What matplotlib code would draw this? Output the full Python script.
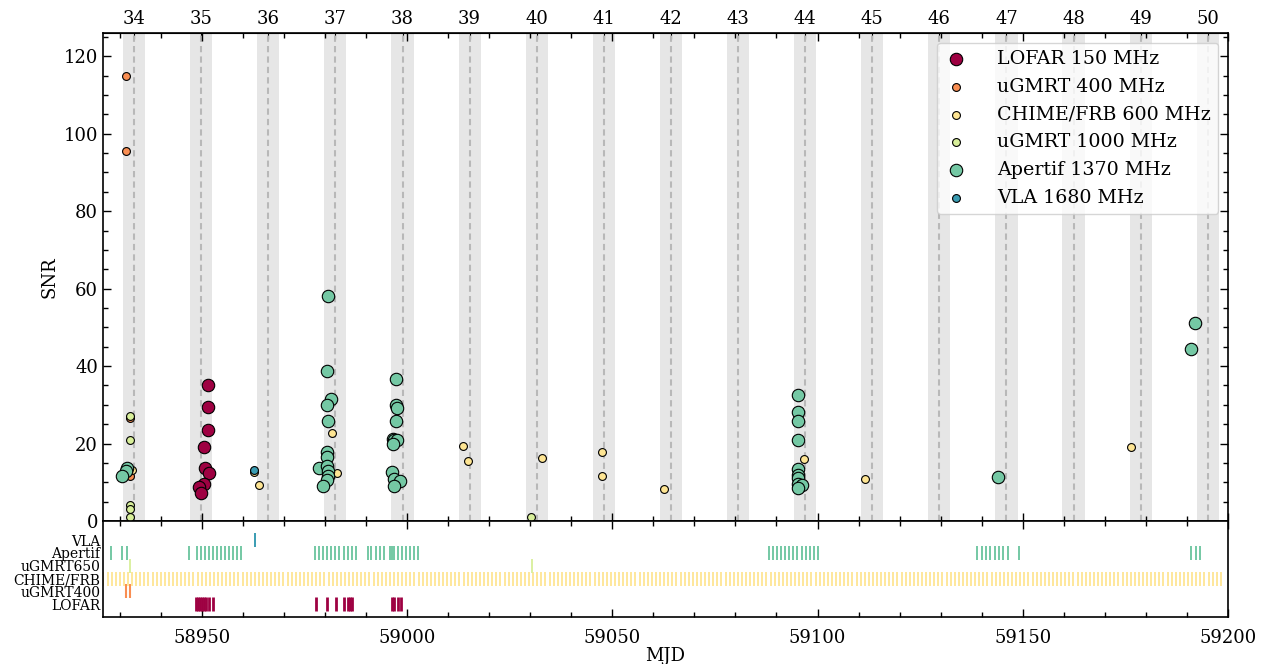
import numpy as np
import matplotlib
matplotlib.use("Agg")
import matplotlib.pyplot as plt

plt.rcParams['font.family'] = 'serif'
plt.rcParams['font.serif'] = ['DejaVu Serif']

# Burst detections: (MJD, SNR) per instrument
lofar_mjd = [58951.5, 58951.5, 58951.6, 58950.6, 58950.7, 58951.7, 58950.6, 58949.3, 58949.7]
lofar_snr = [35.2, 29.4, 23.5, 19.0, 13.8, 12.5, 9.6, 8.9, 7.3]

gmrt400_mjd = [58931.5, 58931.5, 58932.6, 58932.6]
gmrt400_snr = [114.9, 95.6, 26.5, 11.5]

chime_mjd = [58933.0, 58962.8, 58964.0, 58981.8, 58982.9, 59013.7, 59014.8,
             59032.8, 59047.6, 59047.6, 59062.5, 59096.6, 59111.6, 59176.3]
chime_snr = [13.1, 12.6, 9.3, 22.8, 12.3, 19.3, 15.5,
             16.3, 17.8, 11.6, 8.3, 15.9, 10.9, 19.0]

gmrt1000_mjd = [58932.6, 58932.6, 58932.6, 58932.6, 58932.6, 59030.3]
gmrt1000_snr = [27.0, 21.0, 4.0, 3.0, 1.1, 1.1]

apertif_mjd = [58931.7, 58931.6, 58930.5,
               58980.7, 58980.6, 58981.5, 58980.5, 58980.7, 58980.6, 58980.6,
               58978.5, 58980.6, 58980.7, 58980.7, 58980.5, 58979.5,
               58997.3, 58997.3, 58997.5, 58997.2, 58996.5, 58996.7, 58997.5,
               58996.5, 58996.4, 58996.8, 58998.2, 58996.8,
               59095.3, 59095.3, 59095.3, 59095.3, 59095.3, 59095.3, 59095.3,
               59095.2, 59096.3, 59095.2,
               59143.9, 59190.9, 59191.9]
apertif_snr = [13.7, 12.9, 11.6,
               58.2, 38.7, 31.5, 30.0, 25.7, 17.8, 16.5,
               13.8, 14.1, 12.8, 11.7, 10.6, 9.0,
               36.6, 30.0, 29.3, 25.9, 21.1, 21.0, 20.9,
               19.9, 12.6, 10.9, 10.3, 9.1,
               32.5, 28.2, 25.9, 20.8, 13.3, 12.0, 11.0,
               9.5, 9.4, 8.6,
               11.4, 44.3, 51.2]

vla_mjd = [58962.8]
vla_snr = [13.1]

# Observation epochs per instrument (bottom panel)
obs_lofar = [58948.5, 58949.0, 58949.5, 58950.1, 58950.6, 58951.1, 58951.7, 58952.8,
             58977.7, 58980.5, 58982.6, 58984.6, 58985.7, 58986.2, 58986.6,
             58996.4, 58996.8, 58997.7, 58998.6]
obs_gmrt400 = [58931.4, 58932.5]
obs_gmrt650 = [58932.6, 59030.5]
obs_apertif = [58927.8, 58930.6, 58931.7, 58946.8,
               58948.8, 58949.8, 58950.8, 58951.7, 58952.7, 58953.7, 58954.7, 58955.7,
               58956.6, 58957.6, 58958.6, 58959.6,
               58977.5, 58978.5, 58979.5, 58980.5, 58981.5, 58982.5, 58983.5, 58984.5,
               58985.5, 58986.5, 58987.5,
               58990.4, 58991.3, 58992.4, 58993.4, 58994.3, 58995.8, 58996.3, 58996.8,
               58997.7, 58998.7, 58999.7, 59000.7, 59001.6, 59002.6,
               59088.1, 59089.1, 59090.1, 59091.1, 59092.1, 59093.1, 59094.1, 59095.1,
               59096.1, 59097.1, 59098.1, 59099.1, 59100.1,
               59138.9, 59140.0, 59141.0, 59142.1, 59143.2, 59144.2, 59145.3, 59146.4,
               59149.0, 59191.1, 59192.1, 59193.1]
obs_vla = [58963.0]
# CHIME/FRB sees the source once per sidereal day
obs_chime = np.arange(58926.0, 59198.7, 0.99727)

# Activity cycles
period = 16.35
mjd_ref = 58369.40
cycles = np.arange(34, 51)
window = 2.7

c_lofar = '#9e0142'
c_g400 = '#f98e52'
c_chime = '#fee593'
c_g1000 = '#d8ef9a'
c_apertif = '#74c8a4'
c_vla = '#3a9cb2'

fig = plt.figure(figsize=(12.7, 6.64), dpi=100)
ax = fig.add_axes([0.0811, 0.2154, 0.8858, 0.7349])
ax2 = fig.add_axes([0.0811, 0.0708, 0.8858, 0.1446], sharex=ax)

centres = mjd_ref + (cycles + 0.5) * period
for c in centres:
    ax.axvspan(c - window, c + window, color='#e6e6e6', lw=0, zorder=0)
    ax.axvline(c, color='#b8b8b8', ls=(0, (3, 2)), lw=1.5, zorder=0.5)

big, small = 80, 32
ax.scatter(lofar_mjd, lofar_snr, s=big, c=c_lofar, edgecolors='k', lw=0.8, zorder=3, label='LOFAR 150 MHz')
ax.scatter(gmrt400_mjd, gmrt400_snr, s=small, c=c_g400, edgecolors='k', lw=0.8, zorder=3, label='uGMRT 400 MHz')
ax.scatter(chime_mjd, chime_snr, s=small, c=c_chime, edgecolors='k', lw=0.8, zorder=3, label='CHIME/FRB 600 MHz')
ax.scatter(gmrt1000_mjd, gmrt1000_snr, s=small, c=c_g1000, edgecolors='k', lw=0.8, zorder=3, label='uGMRT 1000 MHz')
ax.scatter(apertif_mjd, apertif_snr, s=big, c=c_apertif, edgecolors='k', lw=0.8, zorder=3, label='Apertif 1370 MHz')
ax.scatter(vla_mjd, vla_snr, s=small, c=c_vla, edgecolors='k', lw=0.8, zorder=3, label='VLA 1680 MHz')

ax.legend(loc='upper right', fontsize=13.7, scatterpoints=1, handlelength=1.2,
          handletextpad=1.55, labelspacing=0.51, borderpad=0.4)
ax.set_ylim(0, 126)
ax.set_xlim(58925.9, 59200)
ax.set_ylabel('SNR', fontsize=13)
ax.set_yticks(np.arange(0, 121, 20))
ax.yaxis.set_minor_locator(matplotlib.ticker.MultipleLocator(5))
ax.xaxis.set_minor_locator(matplotlib.ticker.MultipleLocator(10))
ax.tick_params(which='both', direction='in', top=True, right=True, labelbottom=False, labelsize=13)
ax.tick_params(which='major', length=6, width=1)
ax.tick_params(which='minor', length=3.5, width=1)

secax = ax.secondary_xaxis('top')
secax.set_xticks(centres, [str(n) for n in cycles])
secax.tick_params(direction='in', length=4, labelsize=13)

# Observing coverage
rows = [obs_lofar, obs_gmrt400, obs_chime, obs_gmrt650, obs_apertif, obs_vla]
colors = [c_lofar, c_g400, c_chime, c_g1000, c_apertif, c_vla]
widths = [2.0, 1.5, 1.3, 1.3, 1.4, 1.4]
ax2.eventplot(rows, lineoffsets=np.arange(6), linelengths=1.1, colors=colors, linewidths=widths)
ax2.set_ylim(-1, 6.5)
ax2.set_yticks(np.arange(6), ['LOFAR', 'uGMRT400', 'CHIME/FRB', 'uGMRT650', 'Apertif', 'VLA'])
ax2.tick_params(axis='y', length=0, labelsize=10, pad=2)
ax2.tick_params(axis='x', which='both', direction='in', top=True, labelsize=13, pad=9)
ax2.tick_params(axis='x', which='major', length=6, width=1)
ax2.tick_params(axis='x', which='minor', length=3.5, width=1)
ax2.set_xticks(np.arange(58950, 59201, 50))
ax2.set_xlabel('MJD', fontsize=13, labelpad=0)

for a in (ax, ax2):
    for sp in a.spines.values():
        sp.set_linewidth(1.2)

fig.savefig('out.png', dpi=100)
